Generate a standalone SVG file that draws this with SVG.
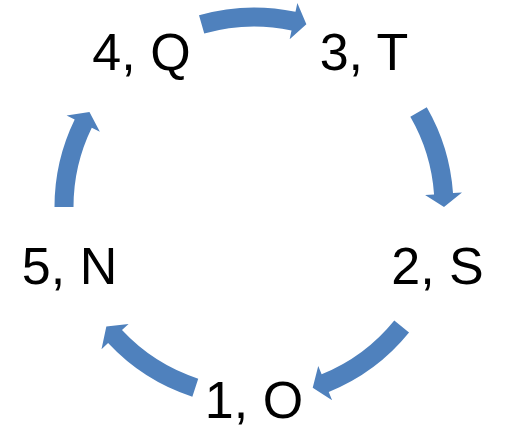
<svg xmlns="http://www.w3.org/2000/svg" width="515" height="442" viewBox="0 0 515 442">
<style>
.lbl{font-family:"Liberation Sans",Arial,sans-serif;font-size:52px;fill:#000;text-anchor:middle}
.arr{fill:#4F81BD;stroke:none}
</style>
<rect width="515" height="442" fill="#fff"/>
<g id="connectors">
<path class="arr" d="M199.01,15.23 A199.5,199.5 0 0 1 295.48,11.86 L297.35,3.06 L306.37,24.36 L289.66,39.25 L291.53,30.44 A180.5,180.5 0 0 0 204.25,33.49 Z"/>
<path class="arr" d="M426.77,107.25 A199.5,199.5 0 0 1 453.01,193.08 L461.99,192.45 L444,207 L425.08,195.04 L434.06,194.41 A180.5,180.5 0 0 0 410.32,116.75 Z"/>
<path class="arr" d="M409.04,332.55 A199.5,199.5 0 0 1 328.73,391.97 L332.11,400.32 L312.71,387.70 L318.25,366.01 L321.62,374.36 A180.5,180.5 0 0 0 394.28,320.59 Z"/>
<path class="arr" d="M192.35,396.74 A199.5,199.5 0 0 1 108.10,343.06 L101.51,349.20 L106.34,326.57 L128.57,323.96 L121.99,330.10 A180.5,180.5 0 0 0 198.22,378.67 Z"/>
<path class="arr" d="M54.5,207 A199.5,199.5 0 0 1 74.69,119.55 L66.60,115.60 L89.45,112 L99.86,131.82 L91.77,127.87 A180.5,180.5 0 0 0 73.5,207 Z"/>
</g>
<g id="node-4Q"><text class="lbl" x="141.5" y="70">4, Q</text></g>
<g id="node-3T"><text class="lbl" x="364" y="70">3, T</text></g>
<g id="node-2S"><text class="lbl" x="437.5" y="284">2, S</text></g>
<g id="node-1O"><text class="lbl" x="254" y="418">1, O</text></g>
<g id="node-5N"><text class="lbl" x="69.5" y="284">5, N</text></g>
</svg>
